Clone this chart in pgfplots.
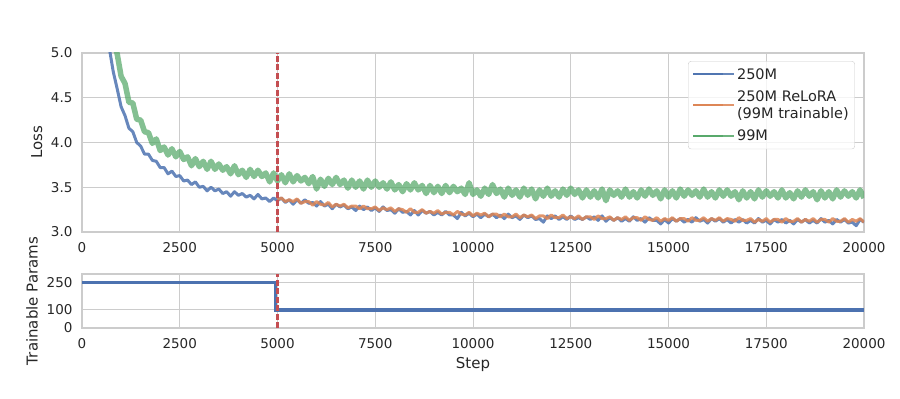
\documentclass[border=0pt]{standalone}
\usepackage{fontspec}
\setmainfont{DejaVu Sans}
\usepackage{pgfplots}
\pgfplotsset{compat=1.18}
\definecolor{sbblue}{HTML}{4C72B0}
\definecolor{sborange}{HTML}{DD8452}
\definecolor{sbgreen}{HTML}{55A868}
\definecolor{sbred}{HTML}{C44E52}
\definecolor{gridgray}{HTML}{CCCCCC}
\definecolor{txt}{HTML}{262626}
\pgfplotsset{
  myaxis/.style={
    scale only axis,
    anchor=south west,
    width=782pt,
    xmin=0, xmax=20000,
    xtick={0,2500,5000,7500,10000,12500,15000,17500,20000},
    scaled x ticks=false,
    xticklabel style={/pgf/number format/fixed, /pgf/number format/precision=0},
    grid=major,
    major grid style={gridgray, line width=1pt},
    axis line style={gridgray, line width=1.2pt},
    major tick length=0pt,
    tick label style={font=\fontsize{13.5}{16}\selectfont, text=txt},
    /pgf/number format/assume math mode=true,
    /pgf/number format/set thousands separator={},
    xticklabel style={yshift=-7pt},
    yticklabel style={xshift=-6pt},
    every axis y label/.style={rotate=90, anchor=center, font=\fontsize{15}{18}\selectfont, text=txt},
    every axis x label/.style={anchor=center, font=\fontsize{15}{18}\selectfont, text=txt},
  }
}
\begin{document}
\begin{tikzpicture}
\useasboundingbox (0,0) rectangle (900pt,399pt);
\begin{axis}[myaxis,
  at={(82pt,167pt)}, height=179pt,
  ymin=3, ymax=5,
  ytick={3,3.5,4,4.5,5},
  yticklabel style={/pgf/number format/fixed, /pgf/number format/fixed zerofill, /pgf/number format/precision=1},
  ylabel={Loss},
  every axis y label/.append style={at={(axis description cs:-0.058,0.5)}},
  legend style={at={(0.775,0.955)}, anchor=north west, draw=gridgray, rounded corners=3pt,
    fill=white, fill opacity=0.8, text opacity=1, font=\fontsize{14.5}{17}\selectfont, text=txt,
    inner xsep=4pt, inner ysep=5pt, row sep=6pt, cells={align=left, anchor=west}},
  legend image code/.code={\draw[#1] (0pt,0pt) -- (30pt,0pt); \path (0pt,0pt) -- (41pt,0pt);},
  legend image post style={line width=1.8pt, opacity=0.85},
]
\addplot[sbblue, line width=3pt, opacity=0.85, line join=round] table {
700 5.05
800 4.79
900 4.60
1000 4.40
1100 4.30
1200 4.16
1300 4.12
1400 4.00
1500 3.96
1600 3.87
1700 3.87
1800 3.80
1900 3.79
2000 3.72
2100 3.72
2200 3.65
2300 3.68
2400 3.62
2500 3.63
2600 3.57
2700 3.58
2800 3.53
2900 3.56
3000 3.50
3100 3.51
3200 3.46
3300 3.50
3400 3.46
3500 3.48
3600 3.43
3700 3.45
3800 3.40
3900 3.45
4000 3.41
4100 3.43
4200 3.39
4300 3.41
4400 3.37
4500 3.42
4600 3.37
4700 3.38
4800 3.34
4900 3.38
5000 3.35
5100 3.38
5200 3.33
5300 3.36
5400 3.31
5500 3.36
5600 3.32
5700 3.36
5800 3.32
5900 3.33
6000 3.29
6100 3.34
6200 3.29
6300 3.31
6400 3.26
6500 3.31
6600 3.28
6700 3.30
6800 3.26
6900 3.28
7000 3.24
7100 3.29
7200 3.25
7300 3.28
7400 3.24
7500 3.27
7600 3.23
7700 3.28
7800 3.24
7900 3.25
8000 3.21
8100 3.26
8200 3.22
8300 3.23
8400 3.19
8500 3.24
8600 3.19
8700 3.24
8800 3.21
8900 3.23
9000 3.19
9100 3.22
9200 3.19
9300 3.23
9400 3.19
9500 3.19
9600 3.15
9700 3.22
9800 3.18
9900 3.21
10000 3.17
10100 3.20
10200 3.16
10300 3.20
10400 3.17
10500 3.20
10600 3.16
10700 3.19
10800 3.15
10900 3.20
11000 3.16
11100 3.18
11200 3.14
11300 3.19
11400 3.16
11500 3.18
11600 3.14
11700 3.15
11800 3.11
11900 3.18
12000 3.15
12100 3.18
12200 3.14
12300 3.17
12400 3.14
12500 3.18
12600 3.14
12700 3.16
12800 3.14
12900 3.17
13000 3.14
13100 3.17
13200 3.13
13300 3.18
13400 3.12
13500 3.16
13600 3.13
13700 3.16
13800 3.12
13900 3.15
14000 3.12
14100 3.17
14200 3.13
14300 3.15
14400 3.11
14500 3.16
14600 3.13
14700 3.13
14800 3.09
14900 3.14
15000 3.10
15100 3.15
15200 3.12
15300 3.15
15400 3.11
15500 3.14
15600 3.11
15700 3.16
15800 3.12
15900 3.14
16000 3.10
16100 3.15
16200 3.12
16300 3.15
16400 3.11
16500 3.14
16600 3.10
16700 3.14
16800 3.11
16900 3.14
17000 3.10
17100 3.13
17200 3.10
17300 3.15
17400 3.11
17500 3.13
17600 3.09
17700 3.14
17800 3.11
17900 3.14
18000 3.10
18100 3.13
18200 3.09
18300 3.14
18400 3.11
18500 3.14
18600 3.10
18700 3.13
18800 3.10
18900 3.15
19000 3.11
19100 3.13
19200 3.09
19300 3.14
19400 3.11
19500 3.14
19600 3.10
19700 3.11
19800 3.07
19900 3.14
20000 3.11
};
\addlegendentry{250M}
\addplot[sborange, line width=3pt, opacity=0.85, line join=round] table {
5000 3.36
5100 3.38
5200 3.34
5300 3.36
5400 3.34
5500 3.37
5600 3.32
5700 3.34
5800 3.34
5900 3.30
6000 3.34
6100 3.31
6200 3.30
6300 3.33
6400 3.28
6500 3.31
6600 3.29
6700 3.31
6800 3.27
6900 3.29
7000 3.29
7100 3.26
7200 3.29
7300 3.26
7400 3.26
7500 3.28
7600 3.24
7700 3.27
7800 3.25
7900 3.27
8000 3.23
8100 3.26
8200 3.25
8300 3.22
8400 3.26
8500 3.22
8600 3.22
8700 3.25
8800 3.21
8900 3.23
9000 3.21
9100 3.24
9200 3.20
9300 3.22
9400 3.22
9500 3.19
9600 3.23
9700 3.20
9800 3.19
9900 3.22
10000 3.18
10100 3.21
10200 3.19
10300 3.21
10400 3.17
10500 3.20
10600 3.20
10700 3.17
10800 3.20
10900 3.17
11000 3.17
11100 3.20
11200 3.16
11300 3.19
11400 3.17
11500 3.19
11600 3.15
11700 3.18
11800 3.18
11900 3.15
12000 3.19
12100 3.16
12200 3.16
12300 3.19
12400 3.15
12500 3.17
12600 3.15
12700 3.18
12800 3.14
12900 3.17
13000 3.17
13100 3.14
13200 3.18
13300 3.15
13400 3.15
13500 3.17
13600 3.13
13700 3.16
13800 3.14
13900 3.17
14000 3.13
14100 3.16
14200 3.16
14300 3.13
14400 3.17
14500 3.14
14600 3.13
14700 3.16
14800 3.12
14900 3.15
15000 3.13
15100 3.16
15200 3.12
15300 3.15
15400 3.15
15500 3.12
15600 3.16
15700 3.13
15800 3.13
15900 3.16
16000 3.12
16100 3.15
16200 3.13
16300 3.16
16400 3.12
16500 3.15
16600 3.14
16700 3.12
16800 3.16
16900 3.13
17000 3.13
17100 3.15
17200 3.11
17300 3.14
17400 3.12
17500 3.15
17600 3.11
17700 3.14
17800 3.14
17900 3.11
18000 3.15
18100 3.12
18200 3.12
18300 3.15
18400 3.11
18500 3.14
18600 3.12
18700 3.15
18800 3.11
18900 3.14
19000 3.14
19100 3.11
19200 3.15
19300 3.12
19400 3.12
19500 3.15
19600 3.11
19700 3.14
19800 3.12
19900 3.15
20000 3.11
};
\addlegendentry{250M ReLoRA\\(99M trainable)}
\addplot[sbgreen, line width=5.5pt, opacity=0.72, line join=round] table {
850 5.06
900 4.99
1000 4.74
1100 4.66
1200 4.45
1300 4.44
1400 4.26
1500 4.25
1600 4.12
1700 4.11
1800 3.99
1900 4.04
2000 3.91
2100 3.95
2200 3.86
2300 3.93
2400 3.84
2500 3.90
2600 3.81
2700 3.84
2800 3.74
2900 3.82
3000 3.73
3100 3.79
3200 3.70
3300 3.79
3400 3.70
3500 3.76
3600 3.69
3700 3.73
3800 3.65
3900 3.74
4000 3.64
4100 3.69
4200 3.61
4300 3.70
4400 3.62
4500 3.69
4600 3.62
4700 3.66
4800 3.56
4900 3.66
5000 3.57
5100 3.64
5200 3.55
5300 3.65
5400 3.56
5500 3.63
5600 3.57
5700 3.61
5800 3.54
5900 3.62
6000 3.48
6100 3.59
6200 3.51
6300 3.60
6400 3.53
6500 3.61
6600 3.53
6700 3.58
6800 3.49
6900 3.58
7000 3.50
7100 3.57
7200 3.48
7300 3.58
7400 3.50
7500 3.57
7600 3.50
7700 3.55
7800 3.48
7900 3.56
8000 3.47
8100 3.53
8200 3.45
8300 3.54
8400 3.47
8500 3.55
8600 3.47
8700 3.52
8800 3.43
8900 3.52
9000 3.44
9100 3.51
9200 3.43
9300 3.52
9400 3.44
9500 3.51
9600 3.45
9700 3.49
9800 3.42
9900 3.55
10000 3.42
10100 3.47
10200 3.40
10300 3.49
10400 3.42
10500 3.53
10600 3.43
10700 3.48
10800 3.39
10900 3.49
11000 3.41
11100 3.47
11200 3.39
11300 3.49
11400 3.41
11500 3.48
11600 3.37
11700 3.47
11800 3.40
11900 3.49
12000 3.40
12100 3.46
12200 3.39
12300 3.48
12400 3.41
12500 3.49
12600 3.42
12700 3.47
12800 3.38
12900 3.47
13000 3.39
13100 3.46
13200 3.38
13300 3.48
13400 3.35
13500 3.47
13600 3.41
13700 3.46
13800 3.39
13900 3.48
14000 3.39
14100 3.45
14200 3.38
14300 3.47
14400 3.40
14500 3.48
14600 3.41
14700 3.46
14800 3.37
14900 3.47
15000 3.39
15100 3.46
15200 3.38
15300 3.48
15400 3.40
15500 3.47
15600 3.41
15700 3.46
15800 3.39
15900 3.48
16000 3.39
16100 3.45
16200 3.38
16300 3.47
16400 3.40
16500 3.47
16600 3.40
16700 3.45
16800 3.36
16900 3.46
17000 3.38
17100 3.45
17200 3.37
17300 3.47
17400 3.39
17500 3.46
17600 3.40
17700 3.45
17800 3.38
17900 3.47
18000 3.38
18100 3.44
18200 3.37
18300 3.46
18400 3.39
18500 3.47
18600 3.40
18700 3.45
18800 3.36
18900 3.46
19000 3.38
19100 3.45
19200 3.37
19300 3.47
19400 3.39
19500 3.46
19600 3.40
19700 3.45
19800 3.38
19900 3.47
20000 3.38
};
\addlegendentry{99M}
\addplot[color=sbred, line width=2.2pt, dash pattern=on 6pt off 2.5pt, forget plot] coordinates {(5000,3) (5000,5)};
\end{axis}
\begin{axis}[myaxis,
  at={(82pt,71pt)}, height=54pt,
  ymin=0, ymax=298,
  ytick={0,100,250},
  xlabel={Step},
  ylabel={Trainable Params},
  every axis y label/.append style={at={(axis description cs:-0.064,0.5)}},
  every axis x label/.append style={at={(axis description cs:0.5,-0.68)}},
]
\addplot[sbblue, line width=3.5pt, line join=miter] coordinates {(0,250) (4950,250) (4950,99) (20000,99)};
\addplot[color=sbred, line width=2.2pt, dash pattern=on 6pt off 2.5pt, forget plot] coordinates {(5000,0) (5000,298)};
\end{axis}
\end{tikzpicture}
\end{document}
